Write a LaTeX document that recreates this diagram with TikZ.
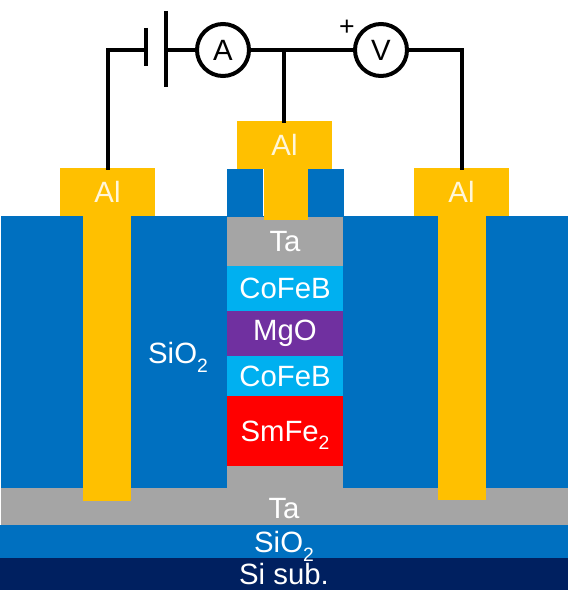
\documentclass[tikz,border=0pt]{standalone}
\usepackage{fontspec}
\setmainfont{Liberation Sans}
\definecolor{oxide}{HTML}{0070C0}
\definecolor{alu}{HTML}{FFC000}
\definecolor{tant}{HTML}{A5A5A5}
\definecolor{cofeb}{HTML}{00B0F0}
\definecolor{mgo}{HTML}{7030A0}
\definecolor{sub}{HTML}{002060}
\newcommand{\lowtwo}{\smash{\raisebox{-0.3em}{\fontsize{14.5}{16}\selectfont 2}}}
\tikzset{
  layer/.style={inner sep=0pt,outer sep=0pt,text=white,minimum width=87pt,font=\fontsize{22}{24}\selectfont},
  alcap/.style={layer,fill=alu,minimum width=71.25pt,minimum height=36pt,text=white!85!alu},
  meter/.style={circle,draw=black,line width=3pt,fill=white,minimum size=39pt,inner sep=0pt,font=\fontsize{22}{24}\selectfont},
  wire/.style={line width=3pt,black,line cap=rect},
}
\begin{document}
\begin{tikzpicture}[x=0.75pt,y=-0.75pt]
\useasboundingbox (0,0) rectangle (568,610);
% substrate
\fill[oxide] (1,216) rectangle (568,488);
\fill[tant] (1,488) rectangle (568,525);
\fill[oxide] (0,525) rectangle (568,558);
\fill[sub] (0,558) rectangle (568,590);
\node[layer] (ta0) at (284,509) {Ta};
\node[layer] (ox0) at (284,542) {SiO\lowtwo};
\node[layer] (si) at (284,574) {Si sub.};
\node[layer,minimum width=60pt] (ox1) at (178,353) {SiO\lowtwo};
% pillar
\node[layer,fill=tant,minimum height=36.75pt] (ta1) at (285,241.5) {\raisebox{-2pt}{Ta}};
\node[layer,fill=cofeb,minimum height=33.75pt] (fm1) at (285,288.5) {CoFeB};
\node[layer,fill=mgo,minimum height=33.75pt] (mg) at (285,333.5) {MgO};
\node[layer,fill=cofeb,minimum height=30pt] (fm2) at (285,376) {CoFeB};
\node[layer,fill=red,minimum height=52.5pt] (sm) at (285,431) {SmFe\lowtwo};
\fill[tant] (227,466) rectangle (343,489);
\fill[oxide] (227,169) rectangle (263,216);
\fill[oxide] (308,169) rectangle (344,216);
% contacts
\fill[alu] (83,216) rectangle (131,501);
\fill[alu] (438,216) rectangle (486,500);
\fill[alu] (264,168) rectangle (308,220);
\node[alcap] (al1) at (107.5,192) {Al};
\node[alcap] (al2) at (284.5,144.5) {Al};
\node[alcap] (al3) at (461.5,192) {Al};
% circuit
\node[meter] (am) at (223,50) {A};
\node[meter] (vm) at (381,50) {V};
\node[font=\fontsize{20}{22}\selectfont] (plus) at (347,28) {+};
\coordinate (bl) at (146,50);
\coordinate (br) at (166,50);
\coordinate (c1) at (108,50);
\coordinate (c2) at (462,50);
\coordinate (j) at (284,50);
\draw[wire] (bl) -- (c1) -- (c1 |- al1.north);
\draw[wire] (br) -- (am);
\draw[wire] (am) -- (vm);
\draw[wire] (j) -- (j |- al2.north);
\draw[wire] (vm) -- (c2) -- (c2 |- al3.north);
\draw[line width=3pt] (146,28) -- (bl) -- (146,66);
\draw[line width=3pt] (166,11) -- (br) -- (166,87);
\end{tikzpicture}
\end{document}
